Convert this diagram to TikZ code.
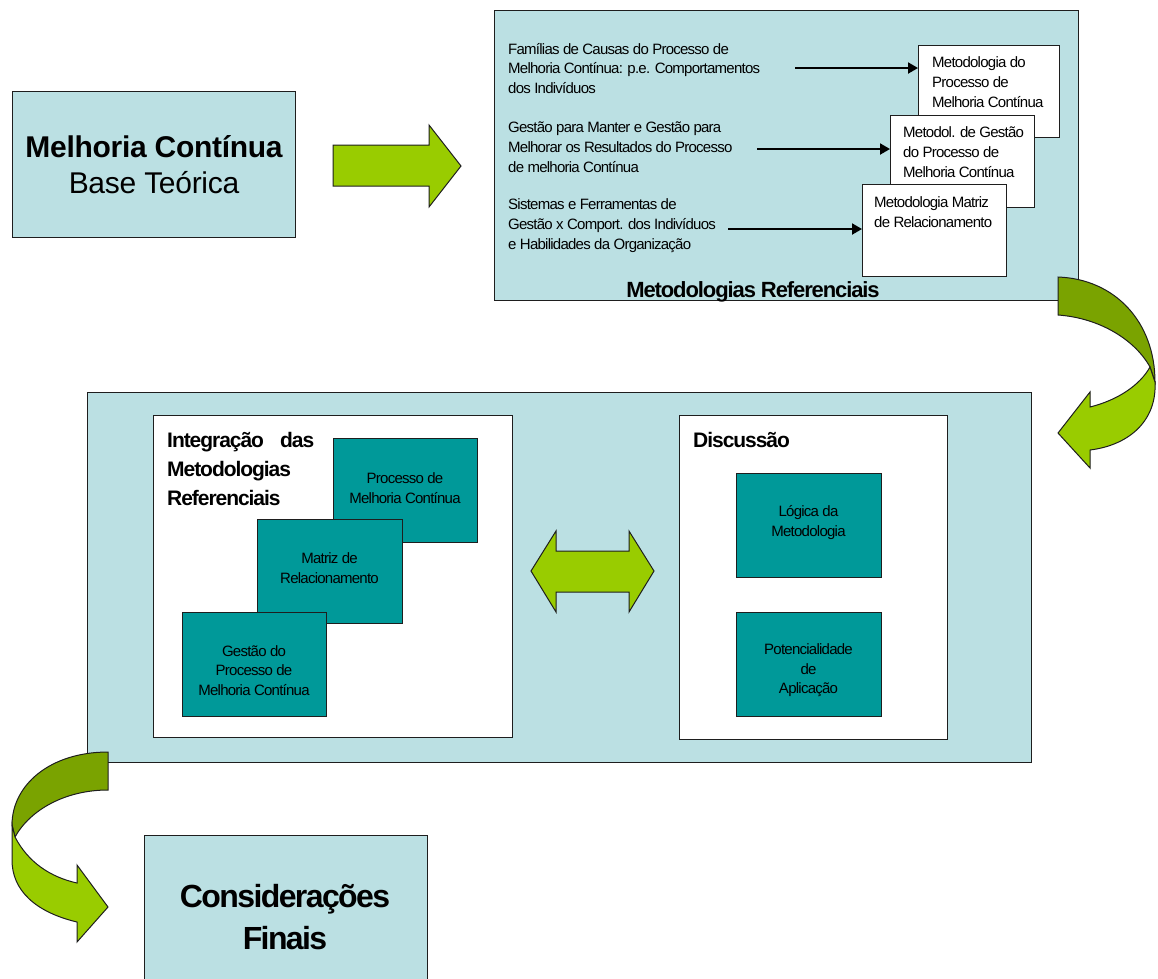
\documentclass[tikz,border=0pt]{standalone}
\usepackage{fontspec}
\setmainfont{Liberation Sans}[LetterSpace=-5]
\newfontfamily\loosefont{Liberation Sans}[LetterSpace=-1]
\usetikzlibrary{arrows.meta}
\definecolor{paleblue}{RGB}{187,224,227}
\definecolor{tealfill}{RGB}{0,153,153}
\definecolor{limegreen}{RGB}{153,204,0}
\definecolor{olivegreen}{RGB}{122,163,0}
\definecolor{edge}{RGB}{30,30,30}

\begin{document}
\begin{tikzpicture}[x=1pt,y=-1pt,
  frame/.style={draw=edge,line width=1pt,rectangle,inner sep=0pt,anchor=north west},
  bluebox/.style={frame,fill=paleblue},
  whitebox/.style={frame,fill=white},
  tealbox/.style={frame,fill=tealfill},
  small/.style={font=\fontsize{15}{19.6}\selectfont,inner sep=0pt},
  caption/.style={small,align=left,anchor=base west},
  boxtext/.style={small,align=center},
  heading/.style={font=\bfseries\fontsize{21}{29}\selectfont,inner sep=0pt,align=left,anchor=base west},
  blockarrow/.style={draw=edge,line width=1pt,fill=limegreen,line join=miter},
  backarrow/.style={draw=edge,line width=1pt,fill=olivegreen,line join=miter},
  pointer/.style={line width=2pt,-{Triangle[length=10pt,width=11pt]}},
]
\path[use as bounding box] (0,0) rectangle (1158,978);

% theoretical basis
\node[bluebox,minimum width=283,minimum height=146,align=center,
      font=\loosefont\fontsize{30}{37}\selectfont] (base) at (12,91)
      {\textbf{Melhoria Contínua}\\[-1pt]Base Teórica};

\draw[blockarrow] (333,145) -- (429,145) -- (429,125) -- (461,166)
  -- (429,207) -- (429,186) -- (333,186) -- cycle;

% reference methodologies (captions are placed by their last baseline)
\node[bluebox,minimum width=584,minimum height=290] (metref) at (494,10) {};
\node[font=\bfseries\fontsize{22}{26}\selectfont,anchor=base,inner sep=0pt]
  (metreft) at (753,297) {Metodologias Referenciais};

\node[caption] (fam) at (508,93.5)
  {Famílias de Causas do Processo de\\Melhoria Contínua: p.e. Comportamentos\\dos Indivíduos};
\node[caption] (gest) at (508,172)
  {Gestão para Manter e Gestão para\\Melhorar os Resultados do Processo\\de melhoria Contínua};
\node[caption] (sist) at (508,249)
  {Sistemas e Ferramentas de\\Gestão x Comport. dos Indivíduos\\e Habilidades da Organização};

\node[whitebox,minimum width=141,minimum height=92] (m1) at (918,45) {};
\node[caption] (m1t) at (932,107) {Metodologia do\\Processo de\\Melhoria Contínua};
\node[whitebox,minimum width=144,minimum height=92] (m2) at (890,115) {};
\node[caption] (m2t) at (903,177) {Metodol. de Gestão\\do Processo de\\Melhoria Contínua};
\node[whitebox,minimum width=144,minimum height=92] (m3) at (862,184) {};
\node[caption] (m3t) at (874,227) {Metodologia Matriz\\de Relacionamento};

\coordinate (p1) at (795,68);
\coordinate (p2) at (757,149);
\coordinate (p3) at (728,229);
\draw[pointer] (p1) -- (p1 -| m1.west);
\draw[pointer] (p2) -- (p2 -| m2.west);
\draw[pointer] (p3) -- (p3 -| m3.west);

% curved arrow down to the integration block
\draw[backarrow] (1058,277) .. controls (1115,279) and (1155,322) .. (1155,382)
  -- (1150,367) .. controls (1135,340) and (1100,318) .. (1058,315) -- cycle;
\draw[blockarrow] (1150,367) .. controls (1140,385) and (1118,400) .. (1090,407)
  -- (1090,392) -- (1058,433) -- (1090,468) -- (1090,450)
  .. controls (1130,445) and (1157,420) .. (1155,382) -- cycle;

% integration and discussion
\node[bluebox,minimum width=944,minimum height=370] (integ) at (87,392) {};
\node[whitebox,minimum width=359,minimum height=322] (intbox) at (153,415) {};
\node[whitebox,minimum width=268,minimum height=324] (disc) at (679,415) {};

\node[heading] (integt) at (167,505)
  {\makebox[147pt][s]{Integração das}\\Metodologias\\Referenciais};

\node[tealbox,minimum width=144,minimum height=104] (pmc) at (333,438) {};
\node[boxtext] (pmct) at (405,488) {Processo de\\Melhoria Contínua};
\node[tealbox,minimum width=145,minimum height=104] (mat) at (257,519) {};
\node[boxtext] (matt) at (329.5,568) {Matriz de\\Relacionamento};
\node[tealbox,minimum width=144,minimum height=104] (gpm) at (182,612) {};
\node[boxtext] (gpmt) at (254,670.5) {Gestão do\\Processo de\\Melhoria Contínua};

\node[heading] (disct) at (693,447) {Discussão};
\node[tealbox,minimum width=145,minimum height=104] (log) at (736,473) {};
\node[boxtext] (logt) at (808.5,522.5) {Lógica da\\Metodologia};
\node[tealbox,minimum width=145,minimum height=104] (pot) at (736,612) {};
\node[boxtext] (pott) at (808.5,670.5) {Potencialidade\\de\\Aplicação};

\draw[blockarrow] (531,571) -- (556,531) -- (556,551) -- (629,551) -- (629,531)
  -- (654,571) -- (629,612) -- (629,592) -- (556,592) -- (556,612) -- cycle;

% curved arrow down to the final considerations
\draw[backarrow] (108,752) .. controls (50,752) and (12,785) .. (12,825)
  -- (15,837) .. controls (30,810) and (65,790) .. (108,790) -- cycle;
\draw[blockarrow] (15,837) .. controls (28,862) and (50,877) .. (77,883)
  -- (77,865) -- (108,907) -- (77,942) -- (77,922)
  .. controls (35,912) and (12,890) .. (12,860) -- (12,825) -- cycle;

% final considerations
\node[bluebox,minimum width=283,minimum height=160] (cons) at (144,835) {};
\node[font=\bfseries\fontsize{32}{42}\selectfont,align=center,inner sep=0pt]
  (const) at (285,917) {Considerações\\Finais};
\end{tikzpicture}
\end{document}
